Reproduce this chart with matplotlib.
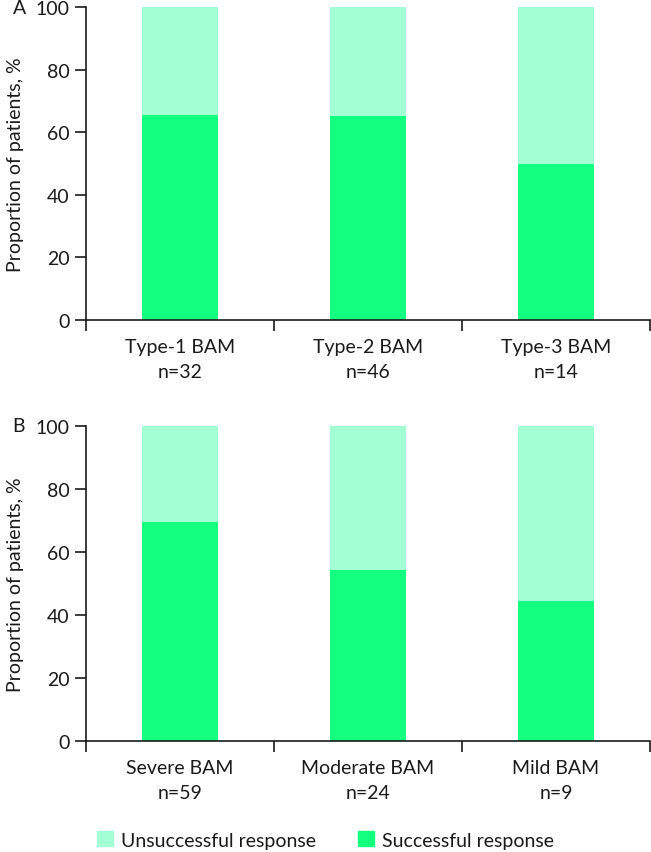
import matplotlib.pyplot as plt
from matplotlib.patches import Patch

plt.rcParams['font.family'] = ['Lato', 'DejaVu Sans']

# panel A
cats_a = ['Type-1 BAM', 'Type-2 BAM', 'Type-3 BAM']
n_a = [32, 46, 14]
succ_a = [65.6, 65.2, 50.0]

# panel B
cats_b = ['Severe BAM', 'Moderate BAM', 'Mild BAM']
n_b = [59, 24, 9]
succ_b = [69.5, 54.2, 44.4]

c_unsucc = '#A3FFD4'
c_succ = '#12FF80'
txt = '#1a1a1a'

fig = plt.figure(figsize=(6.51, 8.53), dpi=100)
axA = fig.add_axes([0.1321, 0.6237, 0.8664, 0.3669])
axB = fig.add_axes([0.1321, 0.1298, 0.8664, 0.3700])


def panel(ax, cats, ns, succ, letter):
    x = list(range(len(cats)))
    unsucc = [100 - s for s in succ]
    ax.bar(x, succ, width=0.4, color=c_succ, zorder=2)
    ax.bar(x, unsucc, bottom=succ, width=0.4, color=c_unsucc, zorder=2)
    ax.set_xlim(-0.5, len(cats) - 0.5)
    ax.set_ylim(0, 100)
    ax.set_yticks([0, 20, 40, 60, 80, 100])
    ax.set_xticks(x)
    ax.set_xticklabels([f'{c}\nn={n}' for c, n in zip(cats, ns)],
                       fontsize=14, color=txt, linespacing=1.55)
    ax.set_xticks([i - 0.5 for i in range(len(cats) + 1)], minor=True)
    ax.tick_params(axis='x', which='major', length=0, pad=13)
    ax.tick_params(axis='x', which='minor', length=8, width=1.2, color=txt)
    ax.tick_params(axis='y', length=8, width=1.2, color=txt,
                   labelsize=14, labelcolor=txt, pad=4)
    for s in ['top', 'right']:
        ax.spines[s].set_visible(False)
    for s in ['left', 'bottom']:
        ax.spines[s].set_linewidth(1.2)
        ax.spines[s].set_color(txt)
    ax.set_ylabel('Proportion of patients, %', fontsize=14, color=txt,
                  labelpad=8)
    ax.text(-0.13, 1.0, letter, transform=ax.transAxes, fontsize=14,
            color=txt, ha='left', va='center')


panel(axA, cats_a, n_a, succ_a, 'A')
panel(axB, cats_b, n_b, succ_b, 'B')

handles = [Patch(color=c_unsucc, label='Unsuccessful response'),
           Patch(color=c_succ, label='Successful response')]
fig.legend(handles=handles, loc='center', bbox_to_anchor=(0.5, 0.014),
           ncol=2, frameon=False, fontsize=14, handlelength=0.8,
           handleheight=0.8, handletextpad=0.4, columnspacing=2.2,
           labelcolor=txt)

fig.savefig('out.png', dpi=100)
